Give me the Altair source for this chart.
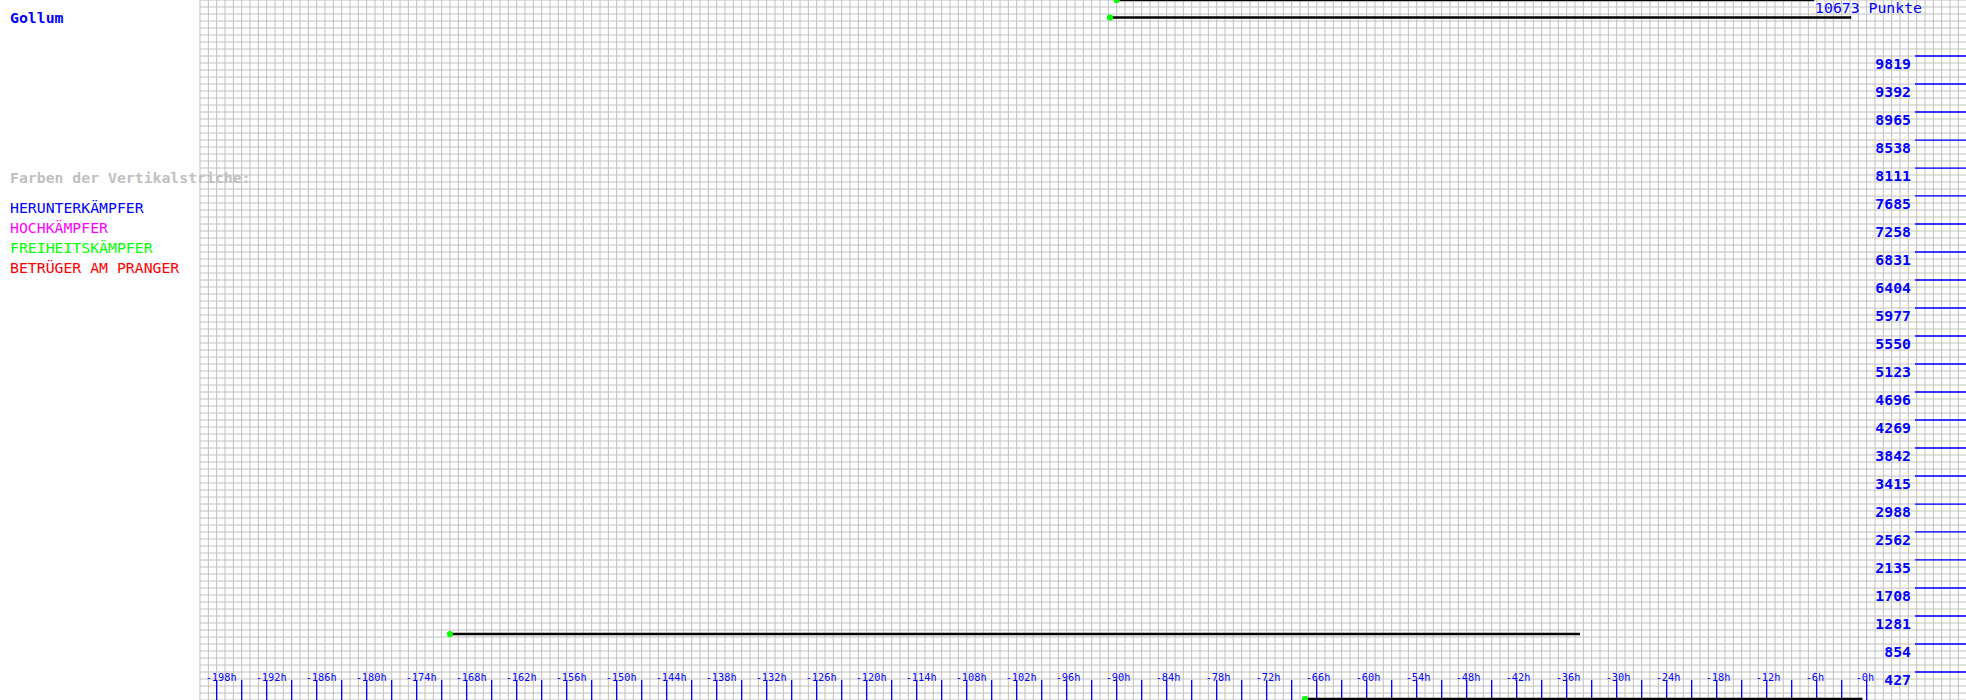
import altair as alt
import pandas as pd

# ---- data ----
player = "Gollum"
max_points = 10673
legend_title = "Farben der Vertikalstriche:"
legend_labels = ["HERUNTERKÄMPFER", "HOCHKÄMPFER", "FREIHEITSKÄMPFER", "BETRÜGER AM PRANGER"]
legend_colors = ["#0000ff", "#ff00ff", "#00ff00", "#ff0000"]

hour_labels = [-198, -192, -186, -180, -174, -168, -162, -156, -150, -144, -138,
               -132, -126, -120, -114, -108, -102, -96, -90, -84, -78, -72, -66,
               -60, -54, -48, -42, -36, -30, -24, -18, -12, -6, 0]
point_labels = [427, 854, 1281, 1708, 2135, 2562, 2988, 3415, 3842, 4269, 4696,
                5123, 5550, 5977, 6404, 6831, 7258, 7685, 8111, 8538, 8965, 9392, 9819]

seg_start = [-90.0, -90.8, -170.0, -67.4]
seg_end = [-6.3, -1.85, -34.4, -0.5]
seg_value = [10673, 10406, 1006, 15]

# ---- layout ----
W, H = 1766, 700
FONT = "DejaVu Sans Mono"
BLUE = "#0000ff"
GRID = "#c0c0c0"

xs = alt.Scale(domain=[-200, 11.92], range=[0, W], nice=False, zero=False)
ys = alt.Scale(domain=[0, max_points], range=[H, 0], nice=False, zero=False)

grid_v = pd.DataFrame({"h": list(range(-200, 12))})
grid_h = pd.DataFrame({"v": [k * max_points / 100 for k in range(0, 101)]})

vgrid = alt.Chart(grid_v).mark_rule(color=GRID, strokeWidth=1).encode(
    x=alt.X("h:Q", scale=xs, axis=None), y=alt.value(0), y2=alt.value(H))
hgrid = alt.Chart(grid_h).mark_rule(color=GRID, strokeWidth=1).encode(
    y=alt.Y("v:Q", scale=ys, axis=None), x=alt.value(0), x2=alt.value(W))

ticks_df = pd.DataFrame({"h": sorted(set(hour_labels + [h + 3 for h in hour_labels[:-1]]))})
xticks = alt.Chart(ticks_df).mark_rule(color=BLUE, strokeWidth=1.3).encode(
    x=alt.X("h:Q", scale=xs, axis=None), y=alt.value(680), y2=alt.value(H))

xlab_df = pd.DataFrame({"h": hour_labels, "t": [f"-{abs(h)}h" for h in hour_labels]})
xlabels = alt.Chart(xlab_df).mark_text(color=BLUE, font=FONT, fontSize=10.3, align="left",
                                       baseline="alphabetic", dx=-11).encode(
    x=alt.X("h:Q", scale=xs, axis=None), y=alt.value(681), text="t:N")

ylab_df = pd.DataFrame({"v": point_labels, "t": [str(p) for p in point_labels]})
yticks = alt.Chart(ylab_df).mark_rule(color=BLUE, strokeWidth=1.3).encode(
    y=alt.Y("v:Q", scale=ys, axis=None), x=alt.value(1715), x2=alt.value(W))
ylabels = alt.Chart(ylab_df).mark_text(color=BLUE, font=FONT, fontSize=14.8, fontWeight="bold",
                                       align="right", baseline="alphabetic", dy=13).encode(
    y=alt.Y("v:Q", scale=ys, axis=None), x=alt.value(1711), text="t:N")

top_df = pd.DataFrame({"t": [f"{max_points} Punkte"]})
toplabel = alt.Chart(top_df).mark_text(color=BLUE, font=FONT, fontSize=14.8, align="right",
                                       baseline="alphabetic").encode(
    x=alt.value(1722), y=alt.value(13), text="t:N")

seg_df = pd.DataFrame({"h": seg_start, "h2": seg_end, "v": seg_value})
segs = alt.Chart(seg_df).mark_rule(color="black", strokeWidth=2.5).encode(
    x=alt.X("h:Q", scale=xs, axis=None), x2="h2:Q", y=alt.Y("v:Q", scale=ys, axis=None))
dots = alt.Chart(seg_df).mark_circle(color="#00ff00", opacity=1, size=38).encode(
    x=alt.X("h:Q", scale=xs, axis=None), y=alt.Y("v:Q", scale=ys, axis=None))

name_df = pd.DataFrame({"t": [player]})
name = alt.Chart(name_df).mark_text(color=BLUE, font=FONT, fontSize=14.8, fontWeight="bold",
                                    align="left", baseline="alphabetic").encode(
    x=alt.value(-190), y=alt.value(23), text="t:N")

ltitle_df = pd.DataFrame({"t": [legend_title]})
ltitle = alt.Chart(ltitle_df).mark_text(color=GRID, font=FONT, fontSize=14.8, fontWeight="bold",
                                        align="left", baseline="alphabetic").encode(
    x=alt.value(-190), y=alt.value(183), text="t:N")

leg_df = pd.DataFrame({"t": legend_labels, "c": legend_colors,
                       "yy": [213 + 20 * i for i in range(len(legend_labels))]})
legend = alt.Chart(leg_df).mark_text(font=FONT, fontSize=14.8, align="left",
                                     baseline="alphabetic").encode(
    x=alt.value(-190), y=alt.Y("yy:Q", scale=alt.Scale(domain=[0, H], range=[0, H]), axis=None),
    text="t:N", color=alt.Color("c:N", scale=None))

chart = alt.layer(vgrid, hgrid, xticks, xlabels, yticks, ylabels, toplabel, segs, dots,
                  name, ltitle, legend).resolve_scale(y="independent").properties(
    width=W, height=H,
    padding={"left": 200, "top": 0, "right": 0, "bottom": 0},
    autosize=alt.AutoSizeParams(type="none"),
    background="white",
).configure_view(stroke=None)

chart.save("out.html", embed_options={"renderer": "svg", "actions": False})
